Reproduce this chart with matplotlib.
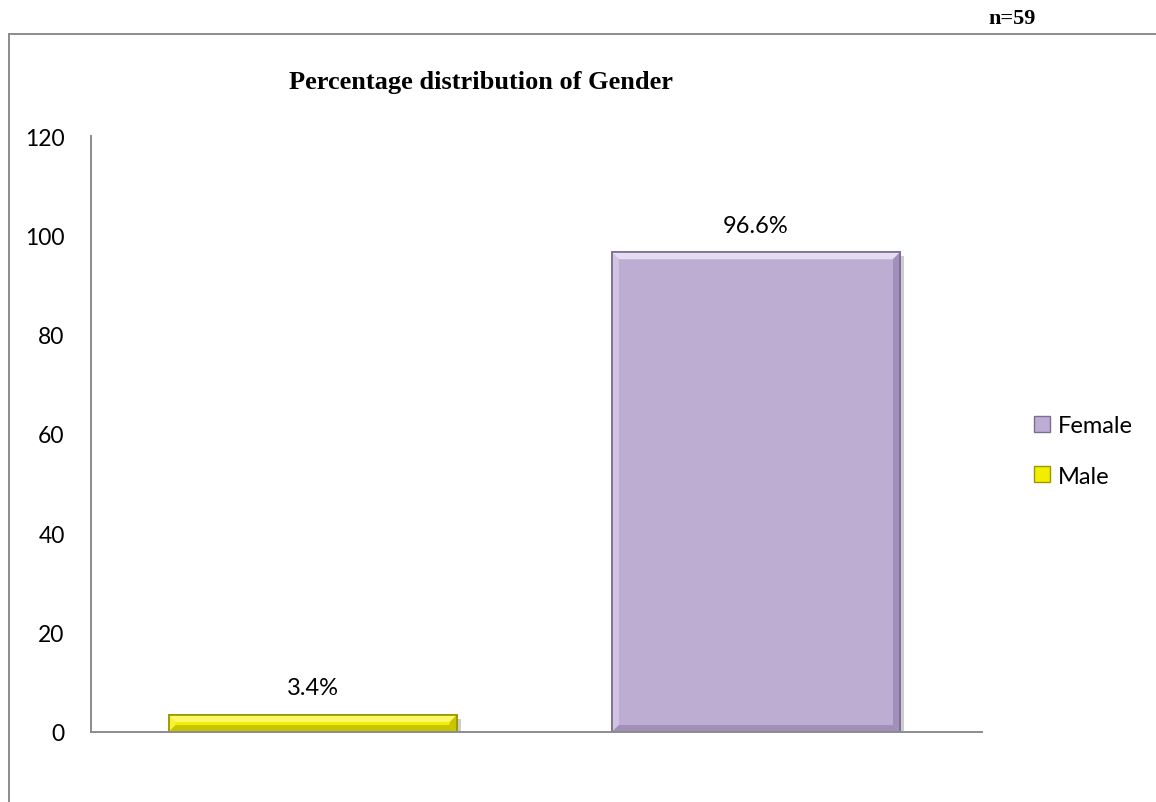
import matplotlib.pyplot as plt
from matplotlib.patches import Polygon
from matplotlib.lines import Line2D

genders = ['Male', 'Female']
percent = [3.4, 96.6]
bar_colors = ['#f2ee00', '#bdadd3']
edge_colors = ['#9c9600', '#7c6d93']
light_colors = ['#fbf86a', '#e6dcf2']
dark_colors = ['#c9c400', '#a08fb8']
y_ticks = [0, 20, 40, 60, 80, 100, 120]

W, H = 1156, 803
fig = plt.figure(figsize=(W / 100, H / 100), dpi=100)
ax = fig.add_axes([91 / W, 70 / H, 891 / W, 596 / H])

x = list(range(len(genders)))
bars = ax.bar(x, percent, width=0.65, color=bar_colors, edgecolor=edge_colors,
              linewidth=1.2, zorder=3)

ax.set_xlim(-0.5, 1.51)
ax.set_ylim(0, 120)
ax.set_yticks(y_ticks)
ax.set_xticks([])
ax.tick_params(axis='y', length=0, pad=19, labelsize=16.5)
for lab in ax.get_yticklabels():
    lab.set_fontfamily('Lato')
for s in ['top', 'right']:
    ax.spines[s].set_visible(False)
for s in ['left', 'bottom']:
    ax.spines[s].set_color('#8c8c8c')
    ax.spines[s].set_linewidth(1.4)
    ax.spines[s].set_zorder(4)

# bevel edges and soft shadow on each bar, built from the bar geometry in pixels
fig.canvas.draw()
b = 7
for rect, lc, dc, ec in zip(bars, light_colors, dark_colors, edge_colors):
    x0, y0 = ax.transData.transform((rect.get_x(), 0))
    x1, y1 = ax.transData.transform((rect.get_x() + rect.get_width(), rect.get_height()))
    bb = min(b, (y1 - y0) / 2)
    top = [(x0, y1), (x1, y1), (x1 - bb, y1 - bb), (x0 + bb, y1 - bb)]
    bot = [(x0, y0), (x1, y0), (x1 - bb, y0 + bb), (x0 + bb, y0 + bb)]
    left = [(x0, y0), (x0, y1), (x0 + bb, y1 - bb), (x0 + bb, y0 + bb)]
    right = [(x1, y0), (x1, y1), (x1 - bb, y1 - bb), (x1 - bb, y0 + bb)]
    shadow = [(x0 + 4, y0 - 4), (x1 + 4, y0 - 4), (x1 + 4, y1 - 4), (x1, y1 - 4), (x1, y0), (x0 + 4, y0)]
    ax.add_patch(Polygon(shadow, closed=True, transform=None, color='#b8b8b8',
                         alpha=0.7, lw=0, zorder=2))
    ax.add_patch(Polygon(top, closed=True, transform=None, color=lc, lw=0, zorder=3.5))
    ax.add_patch(Polygon(left, closed=True, transform=None, color=lc, alpha=0.5, lw=0, zorder=3.5))
    ax.add_patch(Polygon(bot, closed=True, transform=None, color=dc, lw=0, zorder=3.5))
    ax.add_patch(Polygon(right, closed=True, transform=None, color=dc, lw=0, zorder=3.5))
    ax.add_patch(Polygon([(x0, y0), (x1, y0), (x1, y1), (x0, y1)], closed=True,
                         transform=None, fill=False, edgecolor=ec, lw=1.2, zorder=3.6))

for rect, v in zip(bars, percent):
    ax.annotate(f'{v}%', (rect.get_x() + rect.get_width() / 2, v),
                xytext=(0, 12), textcoords='offset points', ha='center',
                va='bottom', fontsize=17, family='Lato')

handles = [Line2D([], [], marker='s', ls='', markersize=11, markerfacecolor=bar_colors[i],
                  markeredgecolor=edge_colors[i]) for i in (1, 0)]
fig.legend(handles, ['Female', 'Male'], loc='center left',
           bbox_to_anchor=(1030 / W, 1 - 452 / H), frameon=False,
           prop={'family': 'Lato', 'size': 17}, handletextpad=0.2,
           labelspacing=1.25, handlelength=1.0, borderpad=0, borderaxespad=0)

fig.text(481 / W, 1 - 82 / H, 'Percentage distribution of Gender', ha='center',
         va='center', fontsize=19, fontweight='bold', family='Liberation Serif')
fig.text(1012 / W, 1 - 19 / H, 'n=59', ha='center', va='center', fontsize=16,
         fontweight='bold', family='Liberation Serif')

# outer frame (left and top only)
fig.add_artist(Line2D([9 / W, 9 / W], [0, 1 - 35 / H], color='#8c8c8c', lw=1.4))
fig.add_artist(Line2D([9 / W, 1], [1 - 35 / H, 1 - 35 / H], color='#8c8c8c', lw=1.4))

fig.savefig('out.png', dpi=100)
